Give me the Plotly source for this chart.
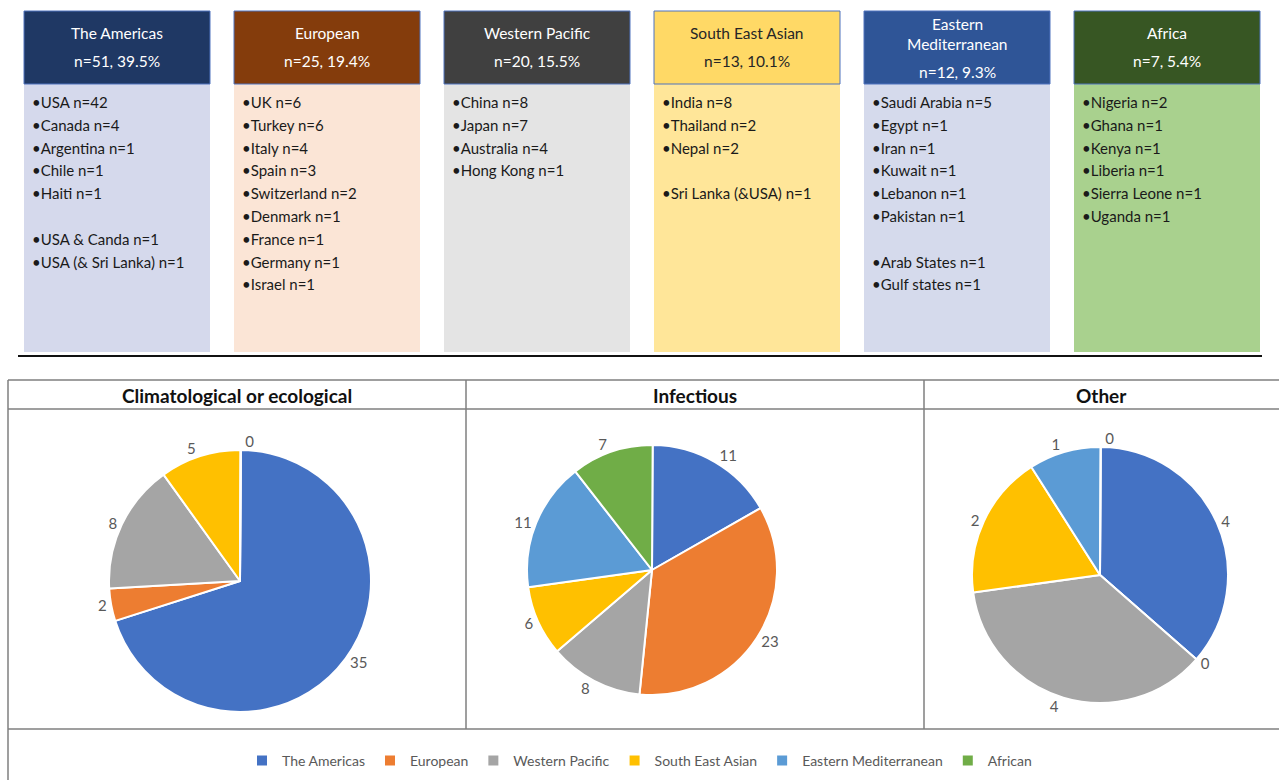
import plotly.graph_objects as go

W, H = 1279, 780
FONT = "Lato"

# ---------------- data ----------------
region_titles = [["The Americas"], ["European"], ["Western Pacific"],
                 ["South East Asian"], ["Eastern", "Mediterranean"], ["Africa"]]
region_n = [51, 25, 20, 13, 12, 7]
region_pct = [39.5, 19.4, 15.5, 10.1, 9.3, 5.4]
country_lists = [
    ["USA n=42", "Canada n=4", "Argentina n=1", "Chile n=1", "Haiti n=1", "",
     "USA & Canda n=1", "USA (& Sri Lanka) n=1"],
    ["UK n=6", "Turkey n=6", "Italy n=4", "Spain n=3", "Switzerland n=2",
     "Denmark n=1", "France n=1", "Germany n=1", "Israel n=1"],
    ["China n=8", "Japan n=7", "Australia n=4", "Hong Kong n=1"],
    ["India n=8", "Thailand n=2", "Nepal n=2", "", "Sri Lanka (&USA) n=1"],
    ["Saudi Arabia n=5", "Egypt n=1", "Iran n=1", "Kuwait n=1", "Lebanon n=1",
     "Pakistan n=1", "", "Arab States n=1", "Gulf states n=1"],
    ["Nigeria n=2", "Ghana n=1", "Kenya n=1", "Liberia n=1", "Sierra Leone n=1",
     "Uganda n=1"],
]

legend_labels = ["The Americas", "European", "Western Pacific",
                 "South East Asian", "Eastern Mediterranean", "African"]
pie_titles = ["Climatological or ecological", "Infectious", "Other"]
clim_values = [35, 2, 8, 5, 0, 0]
infect_values = [11, 23, 8, 6, 11, 7]
other_values = [4, 0, 4, 2, 1, 0]

# ---------------- styles ----------------
header_colors = ["#1F3864", "#843C0C", "#404040", "#FFD966", "#2F5597", "#375623"]
header_text_colors = ["white", "white", "white", "#262626", "white", "white"]
body_colors = ["#D5D9EC", "#FBE5D6", "#E4E4E4", "#FFE699", "#D5DAEC", "#A9D18E"]
pie_colors = ["#4472C4", "#ED7D31", "#A5A5A5", "#FFC000", "#5B9BD5", "#70AD47"]


def px(x):
    return x / W


def py(y):
    return 1 - y / H


def slice_texts(vals):
    # consecutive zero slices sit at the same angle: their labels coincide,
    # so only the last one of such a run is shown (as in the reference)
    out = []
    for k, v in enumerate(vals):
        if v == 0 and k + 1 < len(vals) and vals[k + 1] == 0:
            out.append("")
        else:
            out.append(str(v))
    return out


shapes = []
annotations = []

# ---------------- top panel ----------------
col_left0, col_step, col_w = 24, 210, 186
head_top, head_bot, body_bot = 11, 84, 352
for i in range(6):
    x0 = col_left0 + i * col_step
    x1 = x0 + col_w
    shapes.append(dict(type="rect", xref="paper", yref="paper",
                       x0=px(x0), x1=px(x1), y0=py(body_bot), y1=py(head_bot),
                       fillcolor=body_colors[i], line=dict(width=0), layer="below"))
    shapes.append(dict(type="rect", xref="paper", yref="paper",
                       x0=px(x0), x1=px(x1), y0=py(head_bot), y1=py(head_top),
                       fillcolor=header_colors[i], line=dict(color="#4F73BE", width=1),
                       layer="below"))
    lines = region_titles[i]
    nline = f"n={region_n[i]}, {region_pct[i]}%"
    block = 20 * (len(lines) - 1) + 28
    ytop = (head_top + head_bot) / 2 - block / 2
    ys = [ytop + 20 * k for k in range(len(lines))] + [ytop + 20 * (len(lines) - 1) + 28]
    for txt, yy in zip(lines + [nline], ys):
        annotations.append(dict(xref="paper", yref="paper", x=px((x0 + x1) / 2), y=py(yy),
                                text=txt, showarrow=False, xanchor="center", yanchor="middle",
                                font=dict(family=FONT, size=15.5, color=header_text_colors[i])))
    for k, item in enumerate(country_lists[i]):
        if not item:
            continue
        annotations.append(dict(xref="paper", yref="paper", x=px(x0 + 6), y=py(102 + 22.8 * k),
                                text="\u2022" + item, showarrow=False, xanchor="left",
                                yanchor="middle",
                                font=dict(family=FONT, size=15, color="#1a1a1a")))

shapes.append(dict(type="line", xref="paper", yref="paper", x0=px(18), x1=px(1262),
                   y0=py(356), y1=py(356), line=dict(color="#111111", width=2)))

# ---------------- bottom panel frame ----------------
gray = "#7F7F7F"
frame_top, title_bot, pies_bot = 380, 409, 729
cells = [(8, 466), (466, 924), (924, 1279)]
for yv in (frame_top, title_bot, pies_bot):
    shapes.append(dict(type="line", xref="paper", yref="paper", x0=px(8), x1=px(1279),
                       y0=py(yv), y1=py(yv), line=dict(color=gray, width=1.5)))
shapes.append(dict(type="line", xref="paper", yref="paper", x0=px(8), x1=px(8),
                   y0=py(frame_top), y1=0, line=dict(color=gray, width=1.5)))
for xv in (466, 924):
    shapes.append(dict(type="line", xref="paper", yref="paper", x0=px(xv), x1=px(xv),
                       y0=py(frame_top), y1=py(pies_bot), line=dict(color=gray, width=1.5)))

for (cx0, cx1), t in zip(cells, pie_titles):
    annotations.append(dict(xref="paper", yref="paper", x=px((cx0 + cx1) / 2), y=py(395),
                            text=f"<b>{t}</b>", showarrow=False, xanchor="center",
                            yanchor="middle", font=dict(family=FONT, size=19, color="#111111")))

# ---------------- pies ----------------
pie_geom = [(240, 581, 131), (652, 570, 125), (1100, 575, 128)]
fig = go.Figure()
for vals, (cx, cy, r) in zip([clim_values, infect_values, other_values], pie_geom):
    fig.add_trace(go.Pie(
        labels=legend_labels, values=vals, sort=False, direction="clockwise", rotation=0.3,
        domain=dict(x=[px(cx - r), px(cx + r)], y=[py(cy + r), py(cy - r)]),
        text=slice_texts(vals), textinfo="text", textposition="outside",
        textfont=dict(family=FONT, size=15, color="#595959"),
        marker=dict(colors=pie_colors, line=dict(color="white", width=2)),
        hoverinfo="label+value",
    ))

fig.update_layout(
    width=W, height=H, margin=dict(l=0, r=0, t=0, b=0),
    paper_bgcolor="white", plot_bgcolor="white",
    shapes=shapes, annotations=annotations,
    legend=dict(orientation="h", x=0.5, xanchor="center", y=py(761), yanchor="middle",
                font=dict(family=FONT, size=14, color="#595959"), bgcolor="rgba(0,0,0,0)"),
    font=dict(family=FONT),
)

fig.write_html("out.html")
